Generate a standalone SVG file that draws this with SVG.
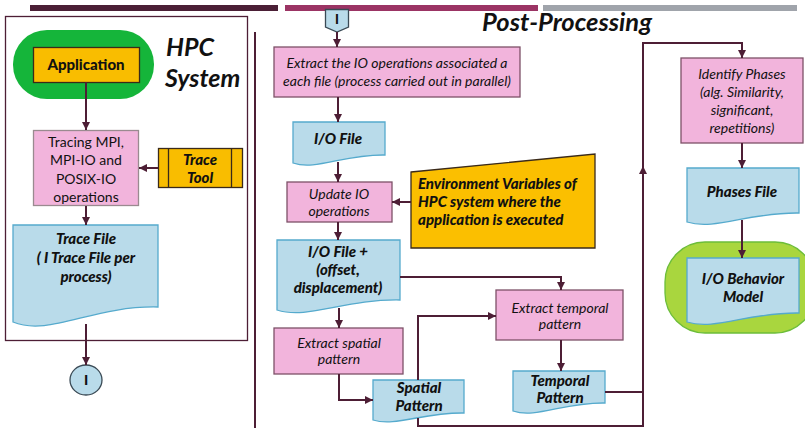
<svg xmlns="http://www.w3.org/2000/svg" width="805" height="428" viewBox="0 0 805 428">
<defs>
<style>
.t{font-family:Lato,"Liberation Sans",sans-serif;fill:#111;text-anchor:middle}
.i{font-style:italic;font-size:14px}
.n{font-size:14px}
.bi{font-style:italic;font-weight:900;font-size:15px}
.pink{fill:#f2b4dc;stroke:#7d5168;stroke-width:1.3}
.doc{fill:#b9dbea;stroke:#55aacd;stroke-width:1.3}
.c{fill:none;stroke:#4d1e35;stroke-width:2}
</style>
<marker id="a" viewBox="0 0 8 8" refX="8" refY="4" markerWidth="8" markerHeight="8" markerUnits="userSpaceOnUse" orient="auto">
<path d="M0,0 L8,4 L0,8 z" fill="#4d1e35"/>
</marker>
</defs>
<rect width="805" height="428" fill="#fff"/>
<g id="bars">
<rect x="30" y="5" width="248" height="6" fill="#4b1f36"/>
<rect x="285" y="5" width="253" height="6" fill="#9b3464"/>
<rect x="543" y="5" width="254" height="6" fill="#a0a4ab"/>
</g>
<g id="hpc-frame">
<rect x="5.5" y="16.5" width="242" height="324" fill="none" stroke="#4d1e35" stroke-width="1.3"/>
<text class="t" x="166" y="56" style="text-anchor:start;font-style:italic;font-weight:bold;font-size:25px">HPC</text>
<text class="t" x="165" y="87" style="text-anchor:start;font-style:italic;font-weight:bold;font-size:25px">System</text>
</g>
<line x1="255" y1="32" x2="255" y2="428" stroke="#4d1e35" stroke-width="2"/>
<text class="t" x="567" y="31" style="font-style:italic;font-weight:bold;font-size:25.5px">Post-Processing</text>
<g id="app">
<rect x="13" y="30" width="141" height="69" rx="34" fill="#15b53a"/>
<rect x="33.5" y="47.5" width="106" height="35" fill="#f9bd00" stroke="#3a2a1a" stroke-width="1.3"/>
<text class="t" x="86" y="70" style="font-weight:900;font-size:15px">Application</text>
</g>
<g id="tracing">
<rect x="33.5" y="130.5" width="105" height="75" fill="#f2b4dc" stroke="#9a8a90" stroke-width="1.3"/>
<text class="t n" x="86" y="147">Tracing MPI,</text>
<text class="t n" x="86" y="165">MPI-IO and</text>
<text class="t n" x="86" y="184">POSIX-IO</text>
<text class="t n" x="86" y="202">operations</text>
</g>
<g id="trace-tool">
<rect x="158.5" y="148.5" width="84" height="39" fill="#f9bd00" stroke="#3a2a1a" stroke-width="1.3"/>
<line x1="168.5" y1="148.5" x2="168.5" y2="187.5" stroke="#3a2a1a" stroke-width="1.3"/>
<line x1="231.5" y1="148.5" x2="231.5" y2="187.5" stroke="#3a2a1a" stroke-width="1.3"/>
<text class="t bi" x="200" y="165">Trace</text>
<text class="t bi" x="200" y="183">Tool</text>
</g>
<g id="trace-file">
<path class="doc" d="M13,225 H158 V307 C92.75,305.5 49.25,337 13,322 Z"/>
<text class="t bi" x="86" y="244">Trace File</text>
<text class="t bi" x="86" y="263">( I Trace File per</text>
<text class="t bi" x="86" y="282">process)</text>
</g>
<g id="conn-out">
<ellipse cx="86" cy="380" rx="16" ry="15" fill="#b9dbea" stroke="#3a4a55" stroke-width="1.3"/>
<text class="t" x="86" y="385" style="font-weight:900;font-size:14px">I</text>
</g>
<g id="conn-in">
<path d="M325.5,9.5 H348.5 V27 L337,32 L325.5,27 Z" fill="#b9dbea" stroke="#3a4a55" stroke-width="1.3"/>
<text class="t" x="337" y="24" style="font-weight:900;font-size:13px">I</text>
</g>
<g id="extract-io">
<rect class="pink" x="274" y="47" width="246" height="50"/>
<text class="t i" x="397" y="68">Extract the IO operations associated a</text>
<text class="t i" x="397" y="86">each file (process carried out in parallel)</text>
</g>
<g id="io-file">
<path class="doc" d="M293,122 H385 V155 C343.6,154.2 316,171 293,163 Z"/>
<text class="t bi" x="338" y="144">I/O File</text>
</g>
<g id="update-io">
<rect class="pink" x="287" y="182" width="105" height="40"/>
<text class="t i" x="339" y="199">Update IO</text>
<text class="t i" x="339" y="216">operations</text>
</g>
<g id="env">
<path d="M411,172 L595,154 V248 H411 Z" fill="#fbbf00" stroke="#3a2a1a" stroke-width="1.3"/>
<text class="t" x="418" y="189" style="text-anchor:start;font-style:italic;font-weight:900;font-size:15px">Environment Variables of</text>
<text class="t" x="418" y="207" style="text-anchor:start;font-style:italic;font-weight:900;font-size:15px">HPC system where the</text>
<text class="t" x="418" y="225" style="text-anchor:start;font-style:italic;font-weight:900;font-size:15px">application is executed</text>
</g>
<g id="io-file-plus">
<path class="doc" d="M277,240 H400 V300 C344.65,299 307.75,320 277,310 Z"/>
<text class="t bi" x="338" y="257">I/O File +</text>
<text class="t bi" x="338" y="275">(offset,</text>
<text class="t bi" x="338" y="293">displacement)</text>
</g>
<g id="extract-temporal">
<rect class="pink" x="496" y="290" width="127" height="50"/>
<text class="t i" x="560" y="313">Extract temporal</text>
<text class="t i" x="560" y="329">pattern</text>
</g>
<g id="extract-spatial">
<rect class="pink" x="274" y="328" width="129" height="46"/>
<text class="t i" x="339" y="348">Extract spatial</text>
<text class="t i" x="339" y="364">pattern</text>
</g>
<g id="spatial-pattern">
<path class="doc" d="M373,380 H464 V413 C423,412.3 395.75,427 373,420 Z"/>
<text class="t bi" x="419" y="393">Spatial</text>
<text class="t bi" x="419" y="411">Pattern</text>
</g>
<g id="temporal-pattern">
<path class="doc" d="M513,371 H605 V403 C563.6,402.2 536,419 513,411 Z"/>
<text class="t bi" x="560" y="386">Temporal</text>
<text class="t bi" x="560" y="403">Pattern</text>
</g>
<g id="identify-phases">
<rect class="pink" x="681" y="58" width="122" height="85"/>
<text class="t i" x="742" y="79">Identify Phases</text>
<text class="t i" x="742" y="97">(alg. Similarity,</text>
<text class="t i" x="742" y="115">significant,</text>
<text class="t i" x="742" y="133">repetitions)</text>
</g>
<g id="phases-file">
<path class="doc" d="M687,168 H799 V213 C748.6,212.1 715,231 687,222 Z"/>
<text class="t bi" x="742" y="197">Phases File</text>
</g>
<g id="io-behavior">
<rect x="665" y="242" width="150" height="91" rx="40" fill="#a9d63e" stroke="#6cbd3a" stroke-width="1.3"/>
<path class="doc" d="M687,258 H799 V313 C748.6,312.1 715,331 687,322 Z"/>
<text class="t bi" x="743" y="284">I/O Behavior</text>
<text class="t bi" x="743" y="302">Model</text>
</g>
<g id="connectors">
<path class="c" d="M86,82 V130" marker-end="url(#a)"/>
<path class="c" d="M158,168 H139" marker-end="url(#a)"/>
<path class="c" d="M86,206 V225" marker-end="url(#a)"/>
<path class="c" d="M86,324 V365" marker-end="url(#a)"/>
<path class="c" d="M337,32 V47" marker-end="url(#a)"/>
<path class="c" d="M338,97 V122" marker-end="url(#a)"/>
<path class="c" d="M338,162 V182" marker-end="url(#a)"/>
<path class="c" d="M411,202 H392" marker-end="url(#a)"/>
<path class="c" d="M338,222 V240" marker-end="url(#a)"/>
<path class="c" d="M400,277 H561 V290" marker-end="url(#a)"/>
<path class="c" d="M339,308 V328" marker-end="url(#a)"/>
<path class="c" d="M339,374 V400 H373" marker-end="url(#a)"/>
<path class="c" d="M418,380 V316 H496" marker-end="url(#a)"/>
<path class="c" d="M561,340 V371" marker-end="url(#a)"/>
<path class="c" d="M418,418 V426 H643 V43 H742 V58" marker-end="url(#a)"/>
<path class="c" d="M643,180 V166" marker-end="url(#a)"/>
<path class="c" d="M605,392 H643"/>
<path class="c" d="M742,143 V168" marker-end="url(#a)"/>
<path class="c" d="M742,220 V258" marker-end="url(#a)"/>
</g>
</svg>
